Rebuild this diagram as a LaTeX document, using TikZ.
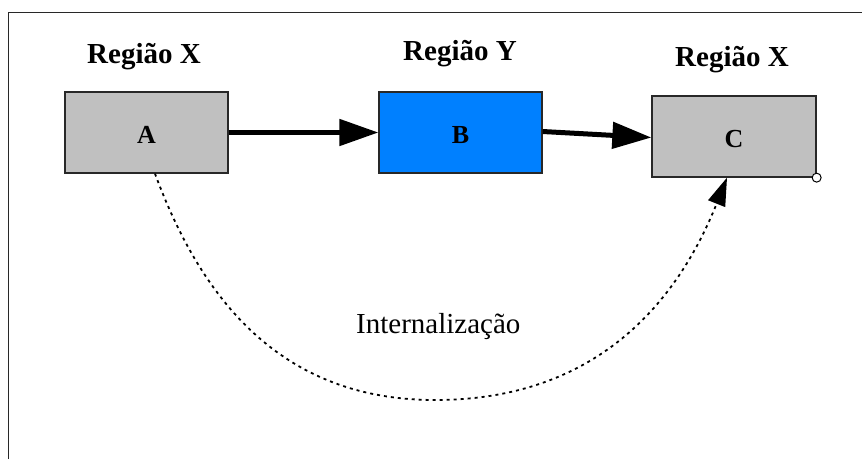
\documentclass[tikz,border=0pt]{standalone}
\usepackage{fontspec}
\setmainfont{Liberation Serif}
\usetikzlibrary{arrows.meta}
\definecolor{boxgray}{RGB}{192,192,192}
\definecolor{boxblue}{RGB}{0,128,255}
\definecolor{edgedark}{RGB}{40,40,40}
\tikzset{
  regbox/.style={draw=edgedark, line width=1.3pt, inner sep=0pt, minimum width=163pt,
    minimum height=81pt, text height=37pt, text depth=16pt,
    font=\fontsize{26}{26}\selectfont\bfseries},
  reglabel/.style={anchor=base, inner sep=0pt, font=\fontsize{29}{29}\selectfont\bfseries},
  flow/.style={line width=5pt, -{Triangle[length=39pt,width=26pt]}},
  internal/.style={line width=1.8pt, dash pattern=on 3pt off 4pt,
    -{Triangle[length=28pt,width=18pt]}}
}
\begin{document}
\begin{tikzpicture}[x=1pt,y=-1pt]
\useasboundingbox (0,0) rectangle (862,459);
\fill[white] (0,0) rectangle (862,459);
% frame
\draw[line width=1.5pt, edgedark] (8.5,459) -- (8.5,12.5) -- (862,12.5);
% boxes
\node[regbox, fill=boxgray] (A) at (146.5,132.5) {A};
\node[regbox, fill=boxblue] (B) at (460.5,132.5) {B};
\node[regbox, fill=boxgray, minimum width=164pt] (C) at (734,136.5) {C};
% region labels
\node[reglabel] (lx1) at (144,63) {Região X};
\node[reglabel] (ly) at (460,60) {Região Y};
\node[reglabel] (lx2) at (732,66) {Região X};
% arrows
\draw[flow] (A.east) -- (B.west);
\draw[flow] ([yshift=1pt]B.east) -- ([yshift=-1pt]C.west);
% internalisation curve
\coordinate (a1) at ([xshift=8.5pt]A.south);
\coordinate (c1) at ([xshift=-7pt]C.south);
\coordinate (bot) at (435,400);
\draw[internal] (a1) .. controls (201,298) and (280,400) .. (bot)
  .. controls (596,400) and (677,303) .. (c1);
\node[anchor=base west, inner sep=0pt, font=\fontsize{29}{29}\selectfont] (int) at (356,333) {Internalização};
% small handle at C corner
\node[circle, draw=black, fill=white, line width=1pt, minimum size=9pt, inner sep=0pt] (h) at (C.south east) {};
\end{tikzpicture}
\end{document}
